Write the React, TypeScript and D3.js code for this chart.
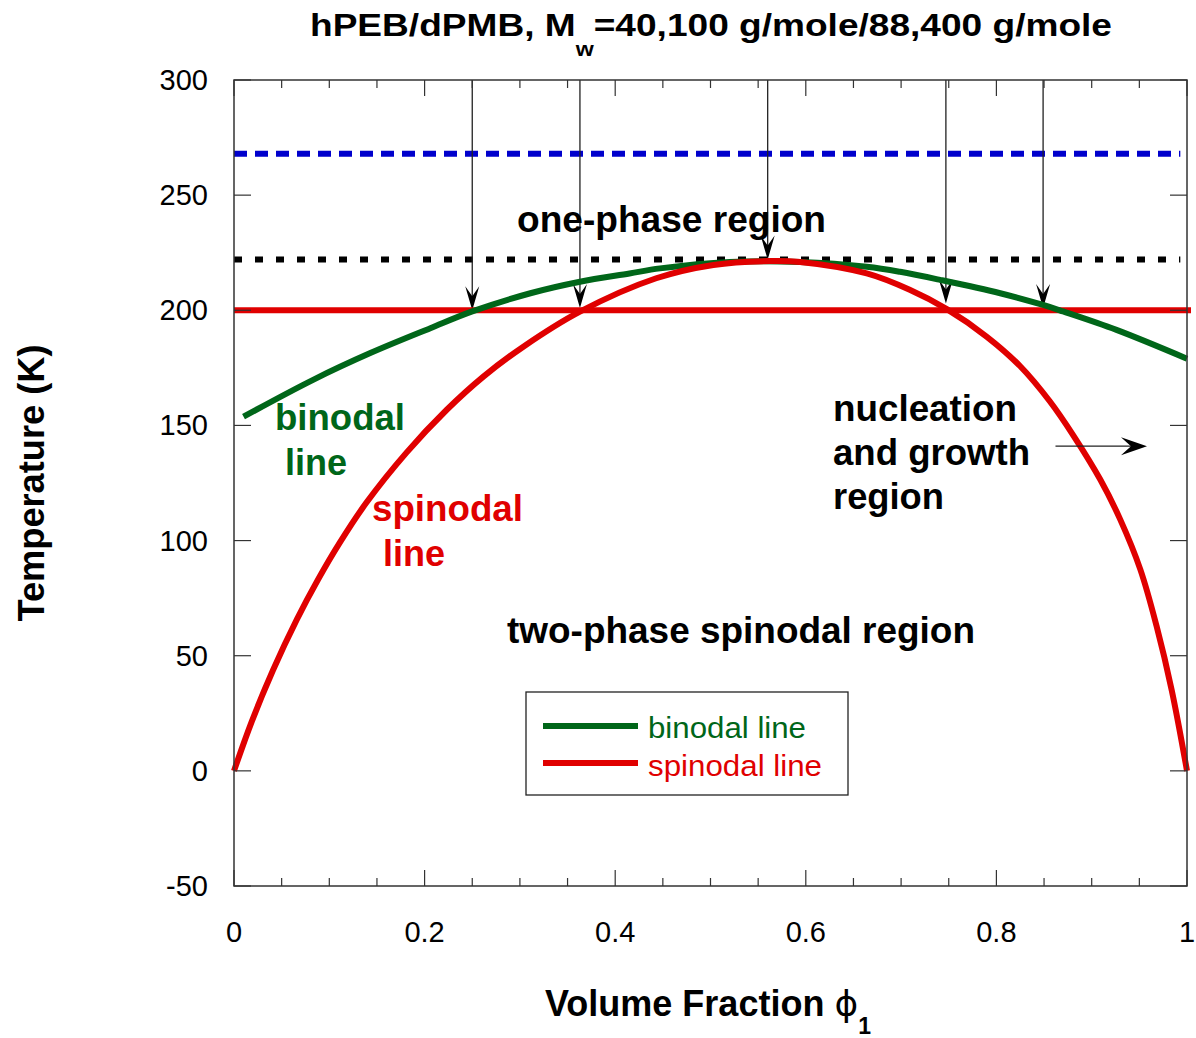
import React from "react";
import * as d3 from "d3";

// binodal (coexistence) curve: [phi1, T in K]
const binodalPhi = [0.01, 0.083, 0.143, 0.206, 0.25, 0.311, 0.363, 0.415, 0.447, 0.52, 0.594, 0.664, 0.699, 0.741, 0.804, 0.849, 0.87, 0.926, 1.0];
const binodalT = [153.8, 169.8, 181.4, 192.2, 199.5, 207.4, 212.4, 216, 218.2, 221, 221, 218.9, 216.7, 213.2, 207.4, 202.3, 199.5, 191.5, 179];

// spinodal curve
const spinodalPhi = [0, 0.0186, 0.041, 0.066, 0.0885, 0.111, 0.139, 0.181, 0.223, 0.262, 0.304, 0.363, 0.443, 0.503, 0.562, 0.594, 0.664, 0.709, 0.748, 0.79, 0.825, 0.856, 0.881, 0.909, 0.93, 0.951, 0.968, 0.984, 1.0];
const spinodalT = [0, 21.4, 43.8, 65.8, 83.3, 99.1, 116.5, 138.2, 156.7, 171.3, 184.3, 199.4, 213.9, 219.7, 221.4, 221, 216, 208.9, 200.5, 188.5, 175.7, 160.5, 145.5, 126.5, 109.1, 87.5, 63, 35, 0];

// horizontal reference temperatures
const blueT = 268;
const blackT = 222;
const redT = 200;

// quench arrows: phi position, T of the arrow tip
const arrowPhi = [0.25, 0.363, 0.56, 0.747, 0.849];
const arrowTipT = [200, 201, 222, 203, 201];

const xTicks = [0, 0.2, 0.4, 0.6, 0.8, 1];
const xTickLabels = ["0", "0.2", "0.4", "0.6", "0.8", "1"];
const yTicks = [-50, 0, 50, 100, 150, 200, 250, 300];

const GREEN = "#006619";
const RED = "#e00000";
const BLUE = "#0000cc";
const FONT = "'Liberation Sans', Arial, Helvetica, sans-serif";

const plot = { left: 234, right: 1187, top: 80, bottom: 886 };

const x = d3.scaleLinear().domain([0, 1]).range([plot.left, plot.right]);
const y = d3.scaleLinear().domain([-50, 300]).range([plot.bottom, plot.top]);

const line = d3
    .line<[number, number]>()
    .x(d => x(d[0]))
    .y(d => y(d[1]))
    .curve(d3.curveCatmullRom.alpha(0.5));

function ArrowDown({ px, tipY, topY }: { px: number; tipY: number; topY: number }) {
    const head = `M${px},${tipY} L${px - 7},${tipY - 24} L${px},${tipY - 14} L${px + 7},${tipY - 24} Z`;
    return (
        <g>
            <line x1={px} x2={px} y1={topY} y2={tipY - 10} stroke="#222" strokeWidth={1.3} />
            <path d={head} fill="#000" />
        </g>
    );
}

// bold annotation text stretched to the width seen in the picture
function Note({ tx, ty, w, fill, children }: { tx: number; ty: number; w: number; fill: string; children: string }) {
    return (
        <text x={tx} y={ty} fontSize={36} fontWeight="bold" fill={fill} textLength={w} lengthAdjust="spacingAndGlyphs">
            {children}
        </text>
    );
}

export default function App() {
    const minorX = d3.range(0, 1.0001, 0.05);
    const binodal = binodalPhi.map((p, i) => [p, binodalT[i]] as [number, number]);
    const spinodal = spinodalPhi.map((p, i) => [p, spinodalT[i]] as [number, number]);

    // nucleation arrow at T ~ 141
    const hy = y(141);
    const hx0 = x(0.862);
    const hx1 = x(0.958);

    return (
        <svg width={1196} height={1038} style={{ display: "block", position: "absolute", left: 0, top: 0 }} fontFamily={FONT}>
            <rect width={1196} height={1038} fill="#fff" />

            {/* title */}
            <text x={310} y={36} fontSize={32} fontWeight="bold" fill="#000" textLength={802} lengthAdjust="spacingAndGlyphs">
                <tspan>hPEB/dPMB, M</tspan>
                <tspan dy={20} fontSize={20}>w</tspan>
                <tspan dy={-20}>=40,100 g/mole/88,400 g/mole</tspan>
            </text>

            {/* reference lines */}
            <line x1={x(0)} x2={x(0.993)} y1={y(blueT)} y2={y(blueT)} stroke={BLUE} strokeWidth={6} strokeDasharray="13 8" />
            <line x1={x(0)} x2={x(0.993)} y1={y(blackT)} y2={y(blackT)} stroke="#000" strokeWidth={6} strokeDasharray="8 13" />

            {/* quench arrows */}
            {arrowPhi.map((p, i) => (
                <ArrowDown key={i} px={x(p)} tipY={y(arrowTipT[i])} topY={plot.top} />
            ))}

            <line x1={x(0)} x2={plot.right + 4} y1={y(redT)} y2={y(redT)} stroke={RED} strokeWidth={6} />

            <path d={line(binodal) || ""} fill="none" stroke={GREEN} strokeWidth={6} />
            <path d={line(spinodal) || ""} fill="none" stroke={RED} strokeWidth={6} />

            {/* axes frame */}
            <rect x={plot.left} y={plot.top} width={plot.right - plot.left} height={plot.bottom - plot.top} fill="none" stroke="#333" strokeWidth={1.5} />
            {minorX.map((t, i) => {
                const major = i % 4 === 0;
                const len = major ? 16 : 8;
                return (
                    <g key={i} stroke="#333" strokeWidth={1.2}>
                        <line x1={x(t)} x2={x(t)} y1={plot.bottom} y2={plot.bottom - len} />
                        <line x1={x(t)} x2={x(t)} y1={plot.top} y2={plot.top + len} />
                    </g>
                );
            })}
            {yTicks.map(t => (
                <g key={t} stroke="#333" strokeWidth={1.2}>
                    <line x1={plot.left} x2={plot.left + 17} y1={y(t)} y2={y(t)} />
                    <line x1={plot.right} x2={plot.right - 17} y1={y(t)} y2={y(t)} />
                </g>
            ))}

            {/* tick labels */}
            {yTicks.map(t => (
                <text key={t} x={208} y={y(t) + 10} fontSize={29} textAnchor="end" fill="#000">
                    {t}
                </text>
            ))}
            {xTicks.map((t, i) => (
                <text key={t} x={x(t)} y={942} fontSize={29} textAnchor="middle" fill="#000">
                    {xTickLabels[i]}
                </text>
            ))}

            {/* axis titles */}
            <text x={545} y={1016} fontSize={36} fontWeight="bold" fill="#000">
                <tspan>Volume Fraction </tspan>
                <tspan fontFamily="'DejaVu Sans', sans-serif" fontWeight="normal">ϕ</tspan>
                <tspan dy={18} fontSize={23}>1</tspan>
            </text>
            <text transform="translate(44,483) rotate(-90)" fontSize={36} fontWeight="bold" textAnchor="middle" fill="#000" textLength={277} lengthAdjust="spacingAndGlyphs">
                Temperature (K)
            </text>

            {/* region annotations */}
            <Note tx={517} ty={232} w={309} fill="#000">one-phase region</Note>
            <Note tx={507} ty={643} w={468} fill="#000">two-phase spinodal region</Note>
            <Note tx={275} ty={430} w={130} fill={GREEN}>binodal</Note>
            <Note tx={285} ty={475} w={62} fill={GREEN}>line</Note>
            <Note tx={372} ty={521} w={151} fill={RED}>spinodal</Note>
            <Note tx={383} ty={566} w={62} fill={RED}>line</Note>
            <Note tx={833} ty={421} w={184} fill="#000">nucleation</Note>
            <Note tx={833} ty={465} w={197} fill="#000">and growth</Note>
            <Note tx={833} ty={509} w={111} fill="#000">region</Note>
            <line x1={hx0} x2={hx1 - 6} y1={hy} y2={hy} stroke="#222" strokeWidth={1.3} />
            <path d={`M${hx1},${hy} L${hx1 - 26},${hy - 9} L${hx1 - 16},${hy} L${hx1 - 26},${hy + 9} Z`} fill="#000" />

            {/* legend */}
            <rect x={526} y={692} width={322} height={103} fill="#fff" stroke="#222" strokeWidth={1.3} />
            <line x1={543} x2={638} y1={726} y2={726} stroke={GREEN} strokeWidth={6} />
            <line x1={543} x2={638} y1={763} y2={763} stroke={RED} strokeWidth={6} />
            <text x={648} y={738} fontSize={30} fill={GREEN} textLength={158} lengthAdjust="spacingAndGlyphs">binodal line</text>
            <text x={648} y={776} fontSize={30} fill={RED} textLength={174} lengthAdjust="spacingAndGlyphs">spinodal line</text>
        </svg>
    );
}
